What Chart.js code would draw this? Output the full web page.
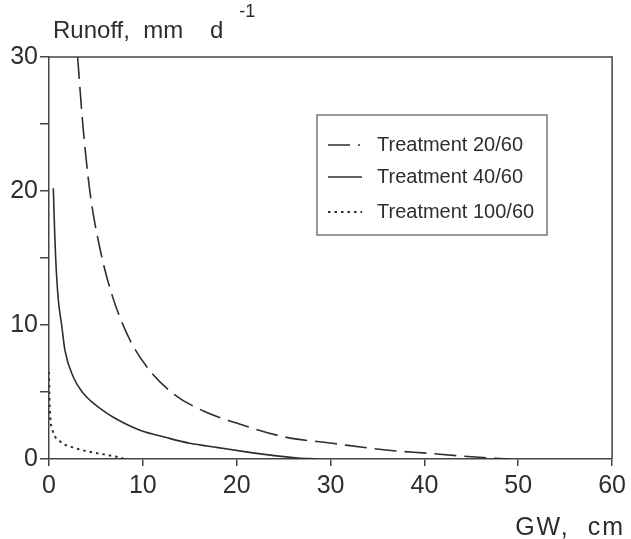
<!DOCTYPE html>
<html><head><meta charset="utf-8">
<script src="https://cdn.jsdelivr.net/npm/chart.js@4/dist/chart.umd.min.js"></script>
<style>html,body{margin:0;padding:0;background:#fff}#wrap{width:631px;height:539px;position:relative}</style>
</head><body><div id="wrap"><canvas id="c" width="631" height="539"></canvas></div>
<script>
// Treatment 20/60 (dashed)
const gw20 = [3.05, 3.6, 4.35, 5.4, 6.6, 8.3, 10.4, 13.2, 16.4, 19.8, 25, 30.2, 35.9, 40.5, 44, 47.6, 49];
const runoff20 = [30, 25, 20, 15.8, 12.5, 9.35, 6.9, 4.9, 3.6, 2.72, 1.66, 1.17, 0.67, 0.42, 0.22, 0.05, 0];
// Treatment 40/60 (solid)
const gw40 = [0.46, 0.6, 0.71, 0.99, 1.35, 1.7, 2.6, 3.65, 4.5, 5.4, 6.9, 9.7, 12.5, 15.0, 18, 21, 24, 26.5, 28.5];
const runoff40 = [20.2, 17, 15, 11.9, 10, 8.1, 6.1, 4.9, 4.3, 3.8, 3.1, 2.15, 1.6, 1.17, 0.85, 0.53, 0.25, 0.08, 0];
// Treatment 100/60 (dotted)
const gw100 = [0, 0.05, 0.15, 0.35, 0.65, 1.0, 1.6, 2.6, 3.6, 5.4, 7.2, 7.9];
const runoff100 = [6.5, 4.5, 3.0, 2.2, 1.66, 1.42, 1.1, 0.85, 0.65, 0.4, 0.17, 0.05];

const seriesLabels = ['Treatment 20/60', 'Treatment 40/60', 'Treatment 100/60'];
const xTickStep = 10;
const yTickStep = 5;
const yLabelStep = 10;
const yTitle = 'Runoff,  mm    d';
const yTitleSup = '-1';
const xTitle = 'GW,  cm';

const INK = '#2e2e2e';
const FONT = '"Liberation Sans", Arial, Helvetica, sans-serif';

function pts(xs, ys) { return xs.map((x, i) => ({x: x, y: ys[i]})); }

const boxPlugin = {
  id: 'boxPlugin',
  afterDraw(chart) {
    const ctx = chart.ctx, a = chart.chartArea;
    ctx.save();
    ctx.strokeStyle = '#444';
    ctx.lineWidth = 1.5;
    ctx.beginPath();
    ctx.moveTo(a.left, a.top);
    ctx.lineTo(a.right, a.top);
    ctx.lineTo(a.right, a.bottom);
    ctx.stroke();

    // titles
    ctx.fillStyle = INK;
    ctx.textBaseline = 'alphabetic';
    ctx.textAlign = 'left';
    ctx.font = '24px ' + FONT;
    ctx.fillText(yTitle, 53, 38);
    const w = ctx.measureText(yTitle).width;
    ctx.font = '18px ' + FONT;
    ctx.fillText(yTitleSup, 53 + w + 16, 17);
    ctx.font = '25px ' + FONT;
    ctx.letterSpacing = '2px';
    ctx.textAlign = 'right';
    ctx.fillText(xTitle, 625, 535);
    ctx.letterSpacing = '0px';

    // legend
    const lx = 317, ly = 115, lw = 230, lh = 120;
    ctx.strokeStyle = '#555';
    ctx.lineWidth = 1.2;
    ctx.strokeRect(lx, ly, lw, lh);
    const rows = [145, 177, 212];
    chart.data.datasets.forEach((ds, i) => {
      const y = rows[i];
      ctx.save();
      ctx.strokeStyle = ds.borderColor;
      ctx.lineWidth = ds.borderWidth;
      ctx.setLineDash(ds.legendDash || ds.borderDash || []);
      ctx.beginPath();
      ctx.moveTo(328, y);
      ctx.lineTo(362, y);
      ctx.stroke();
      ctx.restore();
      ctx.fillStyle = INK;
      ctx.font = '20px ' + FONT;
      ctx.textAlign = 'left';
      ctx.textBaseline = 'middle';
      ctx.fillText(ds.label, 377, y);
    });
    ctx.restore();
  }
};

new Chart(document.getElementById('c'), {
  type: 'line',
  data: {
    datasets: [
      {label: seriesLabels[0], data: pts(gw20, runoff20), borderColor: INK, borderWidth: 1.6, borderDash: [22, 8], legendDash: [22, 8, 2, 8], pointRadius: 0, cubicInterpolationMode: 'monotone', fill: false},
      {label: seriesLabels[1], data: pts(gw40, runoff40), borderColor: INK, borderWidth: 1.6, borderDash: [], pointRadius: 0, cubicInterpolationMode: 'monotone', fill: false},
      {label: seriesLabels[2], data: pts(gw100, runoff100), borderColor: INK, borderWidth: 2, borderDash: [2.5, 4], pointRadius: 0, cubicInterpolationMode: 'monotone', fill: false}
    ]
  },
  options: {
    responsive: false,
    animation: false,
    devicePixelRatio: 1,
    layout: {padding: {top: 57, right: 18, left: 0, bottom: 0}},
    plugins: {legend: {display: false}, tooltip: {enabled: false}, title: {display: false}},
    scales: {
      x: {
        type: 'linear', min: 0, max: 60,
        ticks: {stepSize: xTickStep, color: INK, font: {size: 25, family: FONT}, padding: 5, maxRotation: 0},
        grid: {drawOnChartArea: false, drawTicks: true, tickLength: 7, color: '#444', lineWidth: 1.5},
        border: {color: '#444', width: 1.5},
        afterFit: s => { s.height = 80; }
      },
      y: {
        type: 'linear', min: 0, max: 30,
        ticks: {stepSize: yTickStep, color: INK, font: {size: 25, family: FONT}, padding: 2,
          callback: v => (v % yLabelStep === 0 ? String(v) : '')},
        grid: {drawOnChartArea: false, drawTicks: true, tickLength: 9, color: '#444', lineWidth: 1.5},
        border: {color: '#444', width: 1.5},
        afterFit: s => { s.width = 49; }
      }
    }
  },
  plugins: [boxPlugin]
});
</script>
</body></html>
